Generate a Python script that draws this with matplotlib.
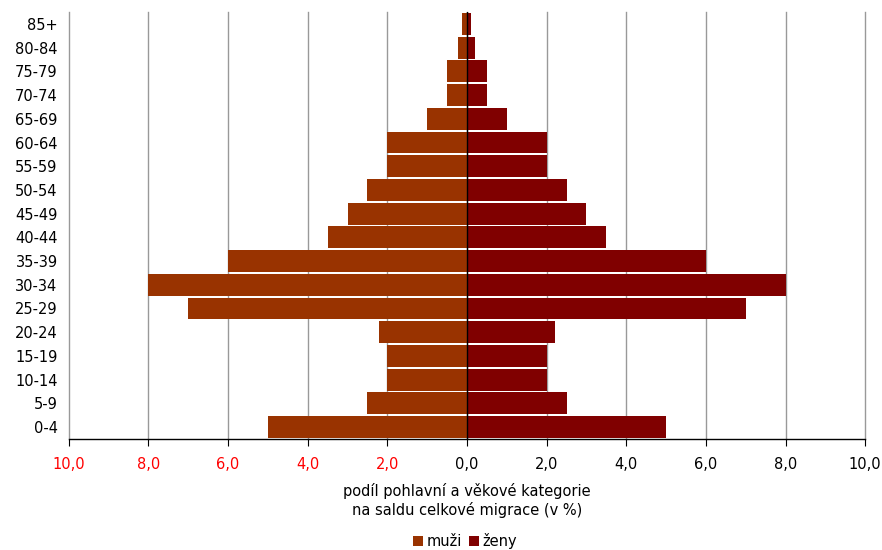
import numpy as np
import matplotlib
matplotlib.use("Agg")
import matplotlib.pyplot as plt

matplotlib.rcParams['font.family'] = 'DejaVu Sans'

ages = ["0-4", "5-9", "10-14", "15-19", "20-24", "25-29", "30-34", "35-39",
        "40-44", "45-49", "50-54", "55-59", "60-64", "65-69", "70-74",
        "75-79", "80-84", "85+"]
muzi = [5.0, 2.5, 2.0, 2.0, 2.2, 7.0, 8.0, 6.0, 3.5, 3.0, 2.5, 2.0, 2.0,
        1.0, 0.5, 0.5, 0.22, 0.12]
zeny = [5.0, 2.5, 2.0, 2.0, 2.2, 7.0, 8.0, 6.0, 3.5, 3.0, 2.5, 2.0, 2.0,
        1.0, 0.5, 0.5, 0.2, 0.1]
xticks = [-10, -8, -6, -4, -2, 0, 2, 4, 6, 8, 10]

fig = plt.figure(figsize=(8.82, 5.5), dpi=100)
ax = fig.add_axes([0.078, 0.202, 0.903, 0.776])

y = np.arange(len(ages))
ax.barh(y, -np.array(muzi), height=0.92, color="#993300", label="muži", zorder=2)
ax.barh(y, zeny, height=0.92, color="#800000", label="ženy", zorder=2)

ax.set_xlim(-10, 10)
ax.set_ylim(-0.5, len(ages) - 0.5)
ax.set_xticks(xticks)
ax.set_xticklabels([("%.1f" % abs(v)).replace(".", ",") for v in xticks], fontsize=10.5)
for lbl, v in zip(ax.get_xticklabels(), xticks):
    if v < 0:
        lbl.set_color("red")
ax.tick_params(axis="x", direction="out", length=5, pad=8)

ax.set_yticks(y)
ax.set_yticklabels(ages, fontsize=10.5)
ax.tick_params(axis="y", length=0, pad=8)

ax.grid(axis="x", color="#999999", linewidth=1, zorder=0)
for gl in ax.get_xgridlines():
    gl.set_clip_on(False)
ax.axvline(0, color="black", linewidth=1, zorder=3)
for sp in ["top", "right", "left"]:
    ax.spines[sp].set_visible(False)
ax.spines["bottom"].set_linewidth(1)

ax.set_xlabel("podíl pohlavní a věkové kategorie\nna saldu celkové migrace (v %)",
              fontsize=10.5, labelpad=8)

fig.legend(loc="lower center", bbox_to_anchor=(0.527, -0.022), ncol=2, frameon=False,
           fontsize=10.5, handlelength=0.7, handleheight=0.7, handletextpad=0.2,
           columnspacing=0.5)

fig.savefig("out.png", dpi=100)
